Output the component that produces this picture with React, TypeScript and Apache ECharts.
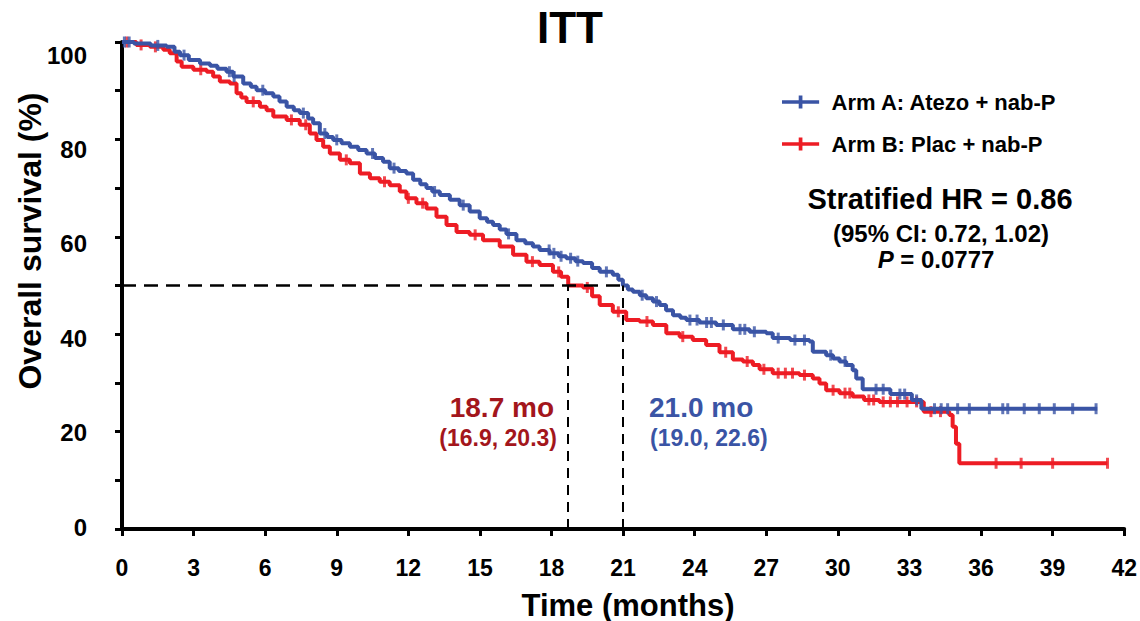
import React, { useEffect, useRef } from "react";
import * as echarts from "echarts";

// Kaplan-Meier step points: time (months) at which the curve steps, and survival (%) after the step
const armATime = [
  0, 0.5, 1.2, 1.87, 2.2, 2.43, 2.8, 3.27, 3.69, 4.0, 4.38, 4.66, 5.08, 5.4, 5.64, 6.0, 6.34, 6.6, 6.9,
  7.2, 7.45, 7.8, 8.01, 8.29, 8.6, 8.85, 9.2, 9.55, 9.9, 10.25, 10.6, 10.94, 11.22, 11.6, 11.92, 12.2,
  12.5, 12.76, 13.0, 13.32, 13.74, 14.15, 14.57, 14.99, 15.3, 15.55, 15.83, 16.11, 16.53, 16.9, 17.22,
  17.5, 17.92, 18.3, 18.62, 19.0, 19.32, 19.7, 20.02, 20.57, 20.8, 20.99, 21.2, 21.41, 21.7, 21.97,
  22.25, 22.53, 22.8, 23.09, 23.4, 23.65, 24.2, 24.9, 25.6, 26.3, 27.0, 27.27, 28.0, 28.81, 28.95,
  29.51, 29.8, 30.07, 30.35, 30.62, 30.77, 31.04, 32.2, 33.1, 33.5, 40.87,
];
const armASurv = [
  100, 99.7, 99.3, 99.0, 98.0, 97.3, 96.3, 95.6, 95.1, 94.5, 93.9, 92.9, 91.5, 90.8, 90.1, 89.5, 88.8,
  87.8, 86.7, 86.0, 85.4, 84.3, 83.3, 81.2, 80.5, 79.9, 79.2, 78.5, 77.8, 77.1, 76.2, 75.4, 74.1, 73.5,
  73.0, 71.7, 70.8, 70.0, 69.3, 68.6, 67.6, 66.5, 65.2, 63.8, 63.1, 62.4, 61.5, 60.6, 59.3, 58.7, 58.0,
  57.3, 56.6, 56.0, 55.6, 55.0, 54.6, 53.6, 52.8, 52.2, 51.2, 50.0, 49.2, 48.7, 48.0, 47.4, 46.7, 46.0,
  44.9, 43.9, 43.4, 42.9, 42.4, 41.9, 41.0, 40.5, 40.2, 39.2, 38.8, 38.5, 36.4, 35.7, 35.0, 34.4, 33.7,
  32.6, 30.9, 28.7, 27.7, 26.5, 24.7, 24.7,
];

const armBTime = [
  0, 0.6, 1.17, 1.73, 2.0, 2.29, 2.5, 2.99, 3.55, 3.82, 4.1, 4.52, 4.8, 5.0, 5.22, 5.78, 6.06, 6.34, 6.9,
  7.45, 7.87, 8.15, 8.43, 8.71, 9.13, 9.55, 9.97, 10.39, 10.8, 11.22, 11.64, 11.92, 12.34, 12.76, 13.18,
  13.6, 14.02, 14.57, 15.13, 15.83, 16.39, 16.95, 17.5, 18.06, 18.4, 18.7, 19.32, 19.7, 20.02, 20.57,
  21.13, 21.69, 22.25, 22.81, 23.37, 23.92, 24.48, 25.04, 25.6, 26.02, 26.44, 26.72, 27.27, 28.39,
  28.95, 29.23, 29.51, 30.07, 30.62, 31.1, 31.74, 33.6, 34.67, 34.81, 34.95, 35.09, 41.3,
];
const armBSurv = [
  100, 99.4, 99.0, 98.4, 97.7, 96.0, 94.9, 94.3, 93.9, 92.9, 91.9, 91.5, 89.5, 88.6, 87.7, 86.7, 86.0,
  84.7, 84.0, 83.0, 81.2, 79.9, 78.5, 77.1, 75.8, 75.1, 73.0, 72.0, 71.3, 70.6, 69.3, 67.9, 66.9, 65.8,
  64.1, 62.4, 61.0, 60.4, 59.3, 58.0, 56.3, 54.9, 54.2, 52.8, 51.8, 50.0, 49.6, 47.8, 46.0, 44.6, 42.9,
  42.6, 41.9, 40.2, 39.5, 38.8, 37.8, 36.3, 34.8, 34.4, 33.7, 32.8, 32.0, 31.6, 30.9, 29.9, 28.5, 27.9,
  27.2, 26.5, 26.1, 24.1, 23.4, 21.0, 17.5, 13.5, 13.5,
];

// Censored observations (months)
const armACensor = [
  0.1, 0.3, 1.5, 2.6, 4.5, 4.7, 5.9, 7.6, 8.5, 9.0, 10.5, 11.4, 13.1, 14.3, 16.2, 17.9, 18.1, 18.4, 18.8,
  19.1, 20.3, 21.8, 22.4, 23.8, 24.1, 24.5, 24.7, 25.2, 25.9, 26.1, 26.5, 27.5, 28.2, 28.6, 29.7, 30.3,
  31.6, 31.9, 32.6, 32.8, 33.3, 34.05, 34.33, 34.6, 35.02, 35.51, 36.35, 36.91, 37.12, 37.81, 38.44,
  39.07, 39.84, 40.82,
];
const armBCensor = [
  0.2, 0.8, 1.4, 3.3, 5.5, 7.1, 7.7, 9.4, 11.0, 12.0, 12.6, 14.8, 17.2, 18.3, 19.5, 20.8, 22.0, 23.5,
  25.3, 26.2, 26.9, 27.5, 27.8, 28.1, 28.6, 29.8, 30.3, 30.5, 31.3, 31.5, 31.9, 32.2, 32.5, 32.9, 33.3,
  33.9, 34.3, 36.63, 37.68, 39.0, 41.3,
];

const medianA = 21.0;
const medianB = 18.7;
const ciA = "(19.0, 22.6)";
const ciB = "(16.9, 20.3)";

const armAName = "Arm A: Atezo + nab-P";
const armBName = "Arm B: Plac + nab-P";

const yLabelValues = [0, 20, 40, 60, 80, 100];

const BLUE = "#3a54a5";
const RED = "#ed1c24";
const DARK_RED = "#a3161c";
const FONT = '"Liberation Sans", Arial, sans-serif';

function survAt(times: number[], surv: number[], t: number) {
  let v = surv[0];
  for (let i = 0; i < times.length; i++) {
    if (times[i] <= t) v = surv[i];
  }
  return v;
}

function pairs(times: number[], surv: number[]) {
  return times.map((t, i) => [t, surv[i]]);
}

function censorPoints(c: number[], times: number[], surv: number[]) {
  return c.map((t) => [t, survAt(times, surv, t)]);
}

// y labels sit a little below their ticks, drifting further down toward the top
function yLabelRich() {
  const rich: Record<string, any> = {};
  yLabelValues.forEach((v) => {
    const shift = Math.round(-2 + v * 0.15);
    rich["s" + v] = {
      fontSize: 24,
      fontWeight: "bold",
      fontFamily: FONT,
      color: "#000",
      padding: shift >= 0 ? [shift * 2, 0, 0, 0] : [0, 0, -shift * 2, 0],
    };
  });
  return rich;
}

const legendIcon = "path://M0,5H40V9H0Z M18,0H22V14H18Z";

export default function App() {
  const ref = useRef<HTMLDivElement>(null);

  useEffect(() => {
    if (!ref.current) return;
    const chart = echarts.init(ref.current, undefined, { renderer: "svg" });

    const textEl = (x: number, y: number, text: string, font: string, fill: string, align: string) => ({
      type: "text",
      x,
      y,
      style: { text, font, fill, align, verticalAlign: "middle" },
    });

    chart.setOption({
      animation: false,
      backgroundColor: "#fff",
      title: {
        text: "ITT",
        left: "center",
        top: 0,
        textStyle: { fontSize: 44, fontWeight: "bold", fontFamily: FONT, color: "#000" },
      },
      legend: {
        orient: "vertical",
        left: 777,
        top: 86,
        itemWidth: 38,
        itemHeight: 13,
        itemGap: 20,
        data: [
          { name: armAName, icon: legendIcon },
          { name: armBName, icon: legendIcon },
        ],
        textStyle: {
          fontSize: 22,
          fontWeight: "bold",
          fontFamily: FONT,
          color: "#000",
          padding: [0, 0, 0, 7],
        },
      },
      grid: { left: 122, right: 15, top: 42, bottom: 92 },
      xAxis: {
        type: "value",
        min: 0,
        max: 42,
        interval: 3,
        axisLine: { lineStyle: { color: "#000", width: 4 } },
        axisTick: { length: 7, lineStyle: { color: "#000", width: 3 } },
        splitLine: { show: false },
        axisLabel: {
          color: "#000",
          fontWeight: "bold",
          fontFamily: FONT,
          fontSize: 23,
          margin: 27,
        },
      },
      yAxis: {
        type: "value",
        min: 0,
        max: 100,
        interval: 10,
        axisLine: { show: true, lineStyle: { color: "#000", width: 4 } },
        axisTick: { show: true, length: 7, lineStyle: { color: "#000", width: 3 } },
        splitLine: { show: false },
        axisLabel: {
          margin: 35,
          formatter: (v: number) => (v % 20 === 0 ? `{s${v}|${v}}` : ""),
          rich: yLabelRich(),
        },
      },
      graphic: [
        {
          type: "text",
          x: 30,
          y: 241,
          rotation: Math.PI / 2,
          style: {
            text: "Overall survival (%)",
            font: `bold 32px ${FONT}`,
            fill: "#000",
            align: "center",
            verticalAlign: "middle",
          },
        },
        textEl(628, 605, "Time (months)", `bold 31px ${FONT}`, "#000", "center"),
        textEl(940, 199, "Stratified HR = 0.86", `bold 29px ${FONT}`, "#000", "center"),
        textEl(941, 233, "(95% CI: 0.72, 1.02)", `bold 24px ${FONT}`, "#000", "center"),
        {
          type: "text",
          x: 936,
          y: 259,
          style: {
            text: "{i|P}{n| = 0.0777}",
            align: "center",
            verticalAlign: "middle",
            rich: {
              i: { font: `italic bold 24px ${FONT}`, fill: "#000" },
              n: { font: `bold 24px ${FONT}`, fill: "#000" },
            },
          },
        },
        textEl(554, 407, `${medianB.toFixed(1)} mo`, `bold 28px ${FONT}`, DARK_RED, "right"),
        textEl(557, 438, ciB, `bold 23px ${FONT}`, DARK_RED, "right"),
        textEl(649, 407, `${medianA.toFixed(1)} mo`, `bold 28px ${FONT}`, BLUE, "left"),
        textEl(650, 438, ciA, `bold 23px ${FONT}`, BLUE, "left"),
      ],
      series: [
        {
          name: armBName,
          type: "line",
          step: "end",
          color: RED,
          showSymbol: false,
          symbol: "none",
          lineStyle: { width: 4, color: RED },
          data: pairs(armBTime, armBSurv),
          z: 2,
          markLine: {
            silent: true,
            symbol: "none",
            label: { show: false },
            data: [
              [
                { coord: [0, 50], lineStyle: { type: [14, 8], width: 2.5, color: "#000" } },
                { coord: [medianA, 50] },
              ],
              [
                { coord: [medianB, 0], lineStyle: { type: [10, 7], width: 2, color: "#000" } },
                { coord: [medianB, 50] },
              ],
              [
                { coord: [medianA, 0], lineStyle: { type: [10, 7], width: 2, color: "#000" } },
                { coord: [medianA, 50] },
              ],
            ],
          },
        },
        {
          name: armBName + " censored",
          type: "scatter",
          symbol: "rect",
          symbolSize: [3, 11],
          itemStyle: { color: RED },
          data: censorPoints(armBCensor, armBTime, armBSurv),
          z: 3,
        },
        {
          name: armAName,
          type: "line",
          step: "end",
          color: BLUE,
          showSymbol: false,
          symbol: "none",
          lineStyle: { width: 4, color: BLUE },
          data: pairs(armATime, armASurv),
          z: 4,
        },
        {
          name: armAName + " censored",
          type: "scatter",
          symbol: "rect",
          symbolSize: [3, 11],
          itemStyle: { color: BLUE },
          data: censorPoints(armACensor, armATime, armASurv),
          z: 5,
        },
      ],
    });

    return () => chart.dispose();
  }, []);

  return (
    <div
      ref={ref}
      style={{ position: "fixed", left: 0, top: 0, width: 1140, height: 621, background: "#fff" }}
    />
  );
}
